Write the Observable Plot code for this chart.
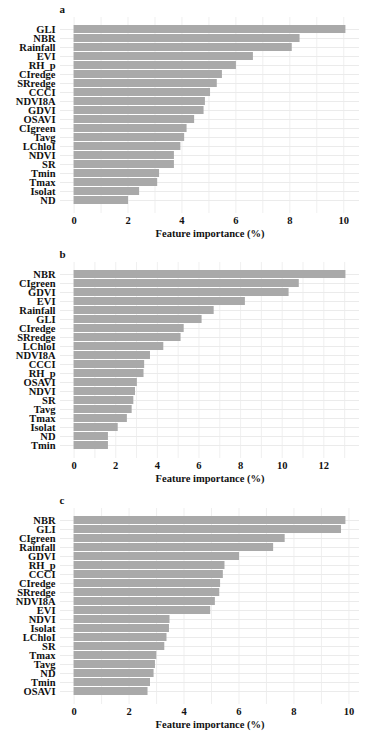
<!DOCTYPE html>
<html><head><meta charset="utf-8">
<script src="https://cdn.jsdelivr.net/npm/d3@7"></script>
<script src="https://cdn.jsdelivr.net/npm/@observablehq/plot@0.6"></script>
<style>
body{margin:0;background:#fff;}
#root{position:relative;width:370px;height:733px;}
.panel{position:absolute;left:0;width:370px;}
</style></head><body><div id="root"></div>
<script>
const panelLetters = ["a", "b", "c"];
const axisTitle = "Feature importance (%)";

const featuresA = ["GLI","NBR","Rainfall","EVI","RH_p","CIredge","SRredge","CCCI","NDVI8A","GDVI","OSAVI","CIgreen","Tavg","LChloI","NDVI","SR","Tmin","Tmax","Isolat","ND"];
const importanceA = [10.08,8.38,8.09,6.65,6.02,5.50,5.31,5.06,4.87,4.82,4.47,4.19,4.10,3.96,3.72,3.72,3.17,3.10,2.43,2.02];
const ticksA = [0,2,4,6,8,10];

const featuresB = ["NBR","CIgreen","GDVI","EVI","Rainfall","GLI","CIredge","SRredge","LChloI","NDVI8A","CCCI","RH_p","OSAVI","NDVI","SR","Tavg","Tmax","Isolat","ND","Tmin"];
const importanceB = [13.06,10.82,10.33,8.23,6.73,6.15,5.29,5.14,4.31,3.67,3.39,3.36,3.04,2.95,2.87,2.79,2.56,2.12,1.65,1.65];
const ticksB = [0,2,4,6,8,10,12];

const featuresC = ["NBR","GLI","CIgreen","Rainfall","GDVI","RH_p","CCCI","CIredge","SRredge","NDVI8A","EVI","NDVI","Isolat","LChloI","SR","Tmax","Tavg","ND","Tmin","OSAVI"];
const importanceC = [9.89,9.73,7.68,7.26,6.02,5.49,5.43,5.33,5.30,5.14,4.97,3.49,3.47,3.38,3.30,3.01,2.96,2.91,2.78,2.69];
const ticksC = [0,2,4,6,8,10];

const panelTops = [0, 245, 491];

function makePanel(letter, features, values, ticks, top) {
  const data = features.map((f, i) => ({feature: f, value: values[i]}));
  const max = d3.max(values);
  const domain = [-0.05 * max, 1.05 * max];
  const grid = d3.range(0, Math.floor(domain[1]) + 1);
  const font = "Liberation Serif";
  const chart = Plot.plot({
    width: 370,
    height: 243,
    marginTop: 17,
    marginBottom: 30,
    marginLeft: 60,
    marginRight: 11,
    style: {fontFamily: font, fontSize: "10.5px", background: "#fff"},
    x: {domain, label: null},
    y: {domain: features, paddingInner: 0.1, paddingOuter: 0.15, label: null},
    marks: [
      Plot.gridX(grid, {stroke: "#ebebeb", strokeOpacity: 1, strokeWidth: 0.8}),
      Plot.gridY({stroke: "#ebebeb", strokeOpacity: 1, strokeWidth: 1}),
      Plot.barX(data, {x: "value", y: "feature", fill: "#a9a9a9"}),
      Plot.axisY({tickSize: 0, tickPadding: 5, fontSize: 10.5, fontWeight: "bold", fill: "#111", label: null}),
      Plot.axisX({ticks, tickSize: 0, tickPadding: 3.5, fontSize: 10.5, fontWeight: "bold", fill: "#111", label: null}),
      Plot.text([axisTitle], {text: d => d, frameAnchor: "bottom", dy: 20, lineAnchor: "middle", fontSize: 10.5, fontWeight: "bold", fill: "#111"}),
      Plot.text([letter], {text: d => d, frameAnchor: "top-left", dx: -1, dy: -5, lineAnchor: "bottom", textAnchor: "start", fontSize: 11, fontWeight: "bold", fill: "#111"})
    ]
  });
  chart.classList.add("panel");
  chart.style.top = top + "px";
  return chart;
}

const root = document.getElementById("root");
root.appendChild(makePanel(panelLetters[0], featuresA, importanceA, ticksA, panelTops[0]));
root.appendChild(makePanel(panelLetters[1], featuresB, importanceB, ticksB, panelTops[1]));
root.appendChild(makePanel(panelLetters[2], featuresC, importanceC, ticksC, panelTops[2]));
</script></body></html>
